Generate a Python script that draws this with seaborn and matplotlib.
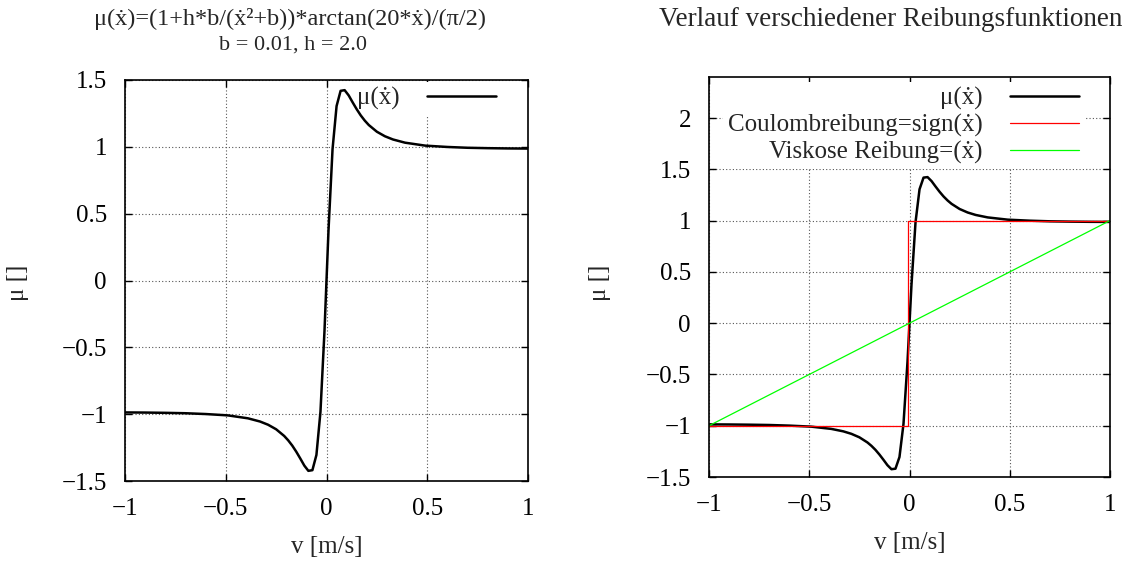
import matplotlib
matplotlib.use("Agg")
import matplotlib.pyplot as plt
import seaborn as sns
from matplotlib.ticker import FuncFormatter
from matplotlib.lines import Line2D

# ---- data ----
v_mu = [-1.0, -0.9, -0.8, -0.7, -0.6, -0.49, -0.39, -0.33, -0.29, -0.25, -0.21,
        -0.19, -0.17, -0.15, -0.13, -0.11, -0.09, -0.07, -0.05, -0.03, -0.01,
        0.01, 0.03, 0.05, 0.07, 0.09, 0.11, 0.13, 0.15, 0.17, 0.19, 0.21,
        0.25, 0.29, 0.33, 0.39, 0.49, 0.6, 0.7, 0.8, 0.9, 1.0]
mu_vals = [-0.987, -0.988, -0.990, -0.993, -0.999, -1.009, -1.031, -1.055, -1.079,
           -1.113, -1.163, -1.196, -1.235, -1.281, -1.332, -1.385, -1.424, -1.419,
           -1.305, -0.983, -0.378, 0.378, 0.983, 1.305, 1.419, 1.424, 1.385, 1.332,
           1.281, 1.235, 1.196, 1.163, 1.113, 1.079, 1.055, 1.031, 1.009, 0.999,
           0.993, 0.990, 0.988, 0.987]
v_coulomb = [-1.0, -0.005, -0.005, 1.0]
coulomb_vals = [-1.0, -1.0, 1.0, 1.0]
v_visk = [-1.0, 1.0]
visk_vals = [-1.0, 1.0]

xticks = [-1, -0.5, 0, 0.5, 1]
yticks_left = [-1.5, -1, -0.5, 0, 0.5, 1, 1.5]
yticks_right = [-1.5, -1, -0.5, 0, 0.5, 1, 1.5, 2]

XD = "\u1e8b"
lbl_mu = "\u03bc(" + XD + ")"
lbl_coul = "Coulombreibung=sign(" + XD + ")"
lbl_visk = "Viskose Reibung=(" + XD + ")"
title_left = "\u03bc(" + XD + ")=(1+h*b/(" + XD + "\u00b2+b))*arctan(20*" + XD + ")/(\u03c0/2)"
subtitle_left = "b = 0.01, h = 2.0"
title_right = "Verlauf verschiedener Reibungsfunktionen"
xlabel = "v [m/s]"
ylabel = "\u03bc []"

sns.set_style("ticks")
plt.rcParams["font.family"] = ["Liberation Serif", "DejaVu Serif"]
plt.rcParams["axes.unicode_minus"] = True
FS = 18

W, H = 1145, 562
fig = plt.figure(figsize=(W / 100, H / 100), dpi=100)
fig.patch.set_facecolor("white")

ax1 = fig.add_axes([125 / W, 1 - 481 / H, 403 / W, 401 / H])
ax2 = fig.add_axes([709 / W, 1 - 477 / H, 401 / W, 400 / H])

fmt = FuncFormatter(lambda v, p: ("%g" % v).replace("-", "\u2212"))

def style(ax, yt, ylim):
    ax.set_facecolor("white")
    ax.set_xlim(-1, 1)
    ax.set_ylim(*ylim)
    ax.set_xticks(xticks)
    ax.set_yticks(yt)
    ax.xaxis.set_major_formatter(fmt)
    ax.yaxis.set_major_formatter(fmt)
    ax.tick_params(direction="in", length=5, width=1, top=True, right=True,
                   labelsize=FS, colors="black")
    ax.tick_params(axis="x", pad=12)
    ax.tick_params(axis="y", pad=13)
    for s in ax.spines.values():
        s.set_visible(True)
        s.set_linewidth(1.2)
        s.set_color("black")
    ax.set_axisbelow(True)
    ax.grid(True, linestyle=(0, (1, 2)), color="#555555", linewidth=0.8)
    ax.set_xlabel(xlabel, fontsize=FS, labelpad=12)
    ax.set_ylabel("")

# Left panel
sns.lineplot(x=v_mu, y=mu_vals, ax=ax1, color="black", linewidth=1.8,
             sort=False, estimator=None, legend=False)
style(ax1, yticks_left, (-1.5, 1.5))
h1 = [Line2D([], [], color="black", linewidth=1.8)]
leg1 = ax1.legend(h1, [lbl_mu], loc="upper right", bbox_to_anchor=(501 / W, 1 - 82 / H),
                  bbox_transform=fig.transFigure, markerfirst=False, fontsize=FS,
                  frameon=True, facecolor="white", edgecolor="none", framealpha=1,
                  fancybox=False, borderpad=0.2, handlelength=2.76, handletextpad=1.1,
                  labelspacing=0.0, borderaxespad=0)
leg1.set_zorder(1.5)
for ln in ax1.lines:
    ln.set_zorder(2)

# Right panel
sns.lineplot(x=v_mu, y=mu_vals, ax=ax2, color="black", linewidth=1.8,
             sort=False, estimator=None, legend=False)
sns.lineplot(x=v_coulomb, y=coulomb_vals, ax=ax2, color="#ff0000", linewidth=0.9,
             sort=False, estimator=None, legend=False)
sns.lineplot(x=v_visk, y=visk_vals, ax=ax2, color="#00ff00", linewidth=0.9,
             sort=False, estimator=None, legend=False)
style(ax2, yticks_right, (-1.5, 2.4))
h2 = [Line2D([], [], color="black", linewidth=1.8),
      Line2D([], [], color="#ff0000", linewidth=0.9),
      Line2D([], [], color="#00ff00", linewidth=0.9)]
leg2 = ax2.legend(h2, [lbl_mu, lbl_coul, lbl_visk], loc="upper right",
                  bbox_to_anchor=(1084 / W, 1 - 82 / H), bbox_transform=fig.transFigure,
                  markerfirst=False, fontsize=FS, frameon=True, facecolor="white",
                  edgecolor="none", framealpha=1, fancybox=False, borderpad=0.2,
                  handlelength=2.76, handletextpad=1.1, labelspacing=0.16,
                  borderaxespad=0)
leg2.set_zorder(1.5)

# Titles and y labels
fig.text(290 / W, 1 - 19 / H, title_left, ha="center", va="center", fontsize=17.5)
fig.text(293 / W, 1 - 45 / H, subtitle_left, ha="center", va="center", fontsize=16)
fig.text(891 / W, 1 - 19 / H, title_right, ha="center", va="center", fontsize=19.5)
fig.text(18 / W, 1 - 283 / H, ylabel, ha="center", va="center", rotation=90, fontsize=FS)
fig.text(600 / W, 1 - 283 / H, ylabel, ha="center", va="center", rotation=90, fontsize=FS)

fig.savefig("out.png", dpi=100, facecolor="white")
